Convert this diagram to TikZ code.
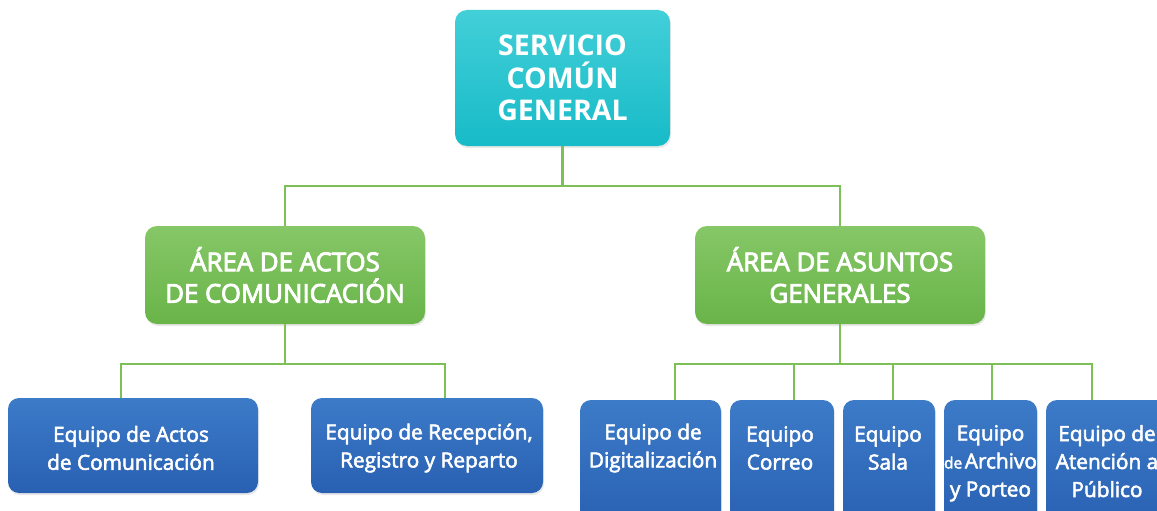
\documentclass[tikz,border=0pt]{standalone}
\usepackage{fontspec}
\setmainfont{Open Sans}
\newfontfamily\medfont{Open Sans}[FakeBold=2.6]
\newfontfamily\semifont{Open Sans}[FakeBold=3.6]
\usetikzlibrary{shadows}
\definecolor{cyanA}{HTML}{42CFD8}
\definecolor{cyanB}{HTML}{17BBC8}
\definecolor{greenA}{HTML}{86C767}
\definecolor{greenB}{HTML}{69B449}
\definecolor{blueA}{HTML}{3C7BC8}
\definecolor{blueB}{HTML}{2960B2}
\definecolor{lineG}{HTML}{7CC057}
\begin{document}
\begin{tikzpicture}[x=1pt,y=-1pt,
  boxbase/.style={rounded corners=12pt, inner sep=0pt, align=center, text=white,
    drop shadow={opacity=0.18, shadow xshift=1pt, shadow yshift=-2pt}},
  topbox/.style={boxbase, top color=cyanA, bottom color=cyanB,
    font=\bfseries\fontsize{28.5}{32.5}\selectfont, minimum width=215pt, minimum height=136pt},
  areabox/.style={boxbase, top color=greenA, bottom color=greenB,
    font=\semifont\fontsize{25.8}{31.5}\selectfont, minimum height=98pt},
  teambox/.style={boxbase, top color=blueA, bottom color=blueB, rounded corners=11pt},
  teamtext/.style={text=white, align=center, inner sep=0pt, font=\medfont\fontsize{20.8}{28}\selectfont},
  conn/.style={draw=lineG, line width=2.8pt}]
\useasboundingbox (0,0) rectangle (1157,511);
\clip (0,0) rectangle (1157,511);
\fill[white] (0,0) rectangle (1157,511);

\coordinate (j0) at (562.5,186);
\coordinate (jl) at (285,364);
\coordinate (jr) at (840,364);

% top
\node[topbox] (top) at (562.5,78) {SERVICIO\\COMÚN\\GENERAL};

% areas
\node[areabox, minimum width=280pt] (gl) at (285,275) {ÁREA DE ACTOS\\DE COMUNICACIÓN};
\node[areabox, minimum width=290pt] (gr) at (840,275) {ÁREA DE ASUNTOS\\GENERALES};

% teams left
\node[teambox, minimum width=250pt, minimum height=95pt] (b1) at (133,445.5) {};
\node[teamtext] (b1t) at (131,448) {Equipo de Actos\\de Comunicación};
\node[teambox, minimum width=232pt, minimum height=95pt] (b2) at (427,445.5) {};
\node[teamtext] (b2t) at (429,448) {Equipo de Recepción,\\Registro y Reparto};

% teams right
\node[teambox, minimum width=141pt, minimum height=130pt] (b3) at (650.5,465) {};
\node[teamtext] (b3t) at (653,448) {Equipo de\\Digitalización};
\node[teambox, minimum width=104pt, minimum height=130pt] (b4) at (782,465) {};
\node[teamtext] (b4t) at (780,448) {Equipo\\Correo};
\node[teambox, minimum width=92pt, minimum height=130pt] (b5) at (889,465) {};
\node[teamtext] (b5t) at (888,448) {Equipo\\Sala};
\node[teambox, minimum width=93pt, minimum height=130pt] (b6) at (990.5,465) {};
\node[teamtext, anchor=north] (b6t) at (990.5,425) {Equipo\\{\fontsize{15.5}{28}\selectfont de\,}Archivo\\y Porteo};
\node[teambox, minimum width=124pt, minimum height=130pt] (b7) at (1108,465) {};
\node[teamtext, anchor=north] (b7t) at (1107,425) {Equipo de\\Atención a\\Público};

\draw[conn] (top.south) -- (j0);
\draw[conn] (j0) -| (gl.north);
\draw[conn] (j0) -| (gr.north);
\draw[conn] (gl.south) -- (jl);
\draw[conn] (jl) -| ([xshift=-12pt]b1.north);
\draw[conn] (jl) -| ([xshift=18pt]b2.north);
\draw[conn] (gr.south) -- (jr);
\draw[conn] (jr) -| ([xshift=24.5pt]b3.north);
\draw[conn] (jr) -| ([xshift=12pt]b4.north);
\draw[conn] (jr) -| ([xshift=4pt]b5.north);
\draw[conn] (jr) -| ([xshift=1.5pt]b6.north);
\draw[conn] (jr) -| ([xshift=-16pt]b7.north);
\end{tikzpicture}
\end{document}
